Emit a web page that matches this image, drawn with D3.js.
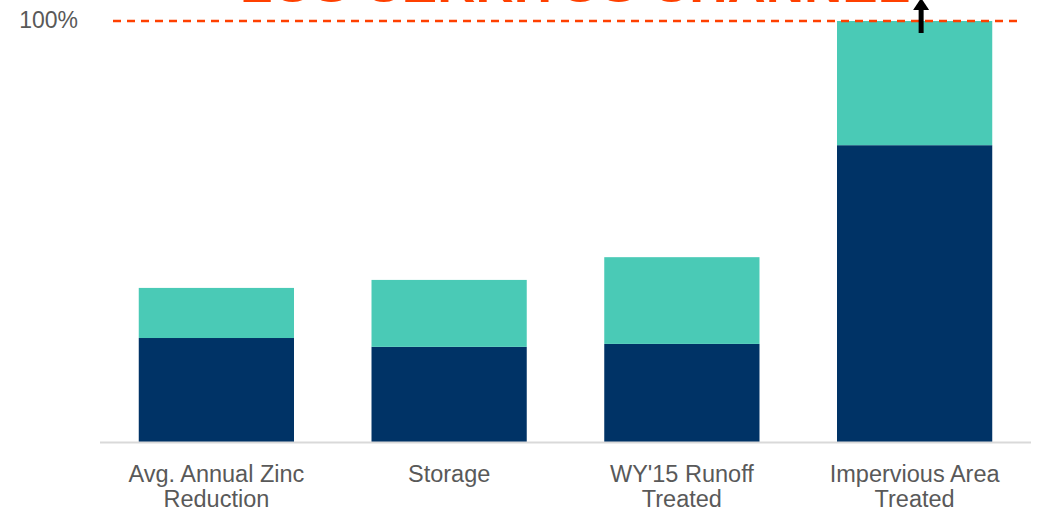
<!DOCTYPE html>
<html>
<head>
<meta charset="utf-8">
<script src="https://cdn.jsdelivr.net/npm/d3@7"></script>
<style>
  body { margin: 0; background: #fff; }
  svg { display: block; font-family: "Liberation Sans", Arial, sans-serif; }
</style>
</head>
<body>
<svg id="chart" width="1037" height="515"></svg>
<script>
var categories = [["Avg. Annual Zinc", "Reduction"], ["Storage"], ["WY'15 Runoff", "Treated"], ["Impervious Area", "Treated"]];
var baseValues = [24.7, 22.6, 23.3, 70.5];
var addedValues = [11.9, 15.9, 20.6, 29.5];
var targetValue = 100;
var targetLabel = "100%";
var titleText = "LOS CERRITOS CHANNEL";

var svg = d3.select("#chart");

var x = d3.scaleBand()
  .domain(d3.range(categories.length))
  .range([100, 1031])
  .paddingInner(0.333)
  .paddingOuter(0.1665);

var y = d3.scaleLinear()
  .domain([0, 100])
  .range([442, 21]);

// title, mostly cropped off the top
svg.append("text")
  .attr("x", 240)
  .attr("y", 2)
  .attr("textLength", 670)
  .attr("lengthAdjust", "spacingAndGlyphs")
  .attr("fill", "#FF4000")
  .attr("font-weight", "bold")
  .attr("font-size", 46)
  .text(titleText);

// stacked bars
var g = svg.append("g");
g.selectAll("rect.base")
  .data(baseValues)
  .enter().append("rect")
  .attr("class", "base")
  .attr("x", function(d, i) { return x(i); })
  .attr("width", x.bandwidth())
  .attr("y", function(d) { return y(d); })
  .attr("height", function(d) { return y(0) - y(d); })
  .attr("fill", "#003366");

g.selectAll("rect.added")
  .data(addedValues)
  .enter().append("rect")
  .attr("class", "added")
  .attr("x", function(d, i) { return x(i); })
  .attr("width", x.bandwidth())
  .attr("y", function(d, i) { return y(baseValues[i] + d); })
  .attr("height", function(d, i) { return y(baseValues[i]) - y(baseValues[i] + d); })
  .attr("fill", "#4ACAB6");

// x axis line
svg.append("line")
  .attr("x1", 100).attr("x2", 1031)
  .attr("y1", y(0) + 0.5).attr("y2", y(0) + 0.5)
  .attr("stroke", "#d9d9d9")
  .attr("stroke-width", 2);

// category labels
var labels = svg.selectAll("text.cat")
  .data(categories)
  .enter().append("text")
  .attr("class", "cat")
  .attr("x", function(d, i) { return x(i) + x.bandwidth() / 2; })
  .attr("y", 482)
  .attr("text-anchor", "middle")
  .attr("font-size", 23.5)
  .attr("fill", "#595959");

labels.selectAll("tspan")
  .data(function(d) { return d; })
  .enter().append("tspan")
  .attr("x", function() { return d3.select(this.parentNode).attr("x"); })
  .attr("dy", function(d, i) { return i ? 25 : 0; })
  .text(function(d) { return d; });

// target line
svg.append("line")
  .attr("x1", 113).attr("x2", 1017)
  .attr("y1", y(targetValue)).attr("y2", y(targetValue))
  .attr("stroke", "#FF4000")
  .attr("stroke-width", 2.5)
  .attr("stroke-dasharray", "8,6");

svg.append("text")
  .attr("x", 78)
  .attr("y", 28)
  .attr("text-anchor", "end")
  .attr("font-size", 23)
  .attr("fill", "#595959")
  .text(targetLabel);

// arrow pointing up past the target
var ax = x(3) + x.bandwidth() / 2 + 6.5;
svg.append("line")
  .attr("x1", ax).attr("x2", ax)
  .attr("y1", 33).attr("y2", 8)
  .attr("stroke", "#000")
  .attr("stroke-width", 5);
svg.append("path")
  .attr("d", "M" + (ax - 8) + ",10 L" + ax + ",-2 L" + (ax + 8) + ",10 Z")
  .attr("fill", "#000");
</script>
</body>
</html>
